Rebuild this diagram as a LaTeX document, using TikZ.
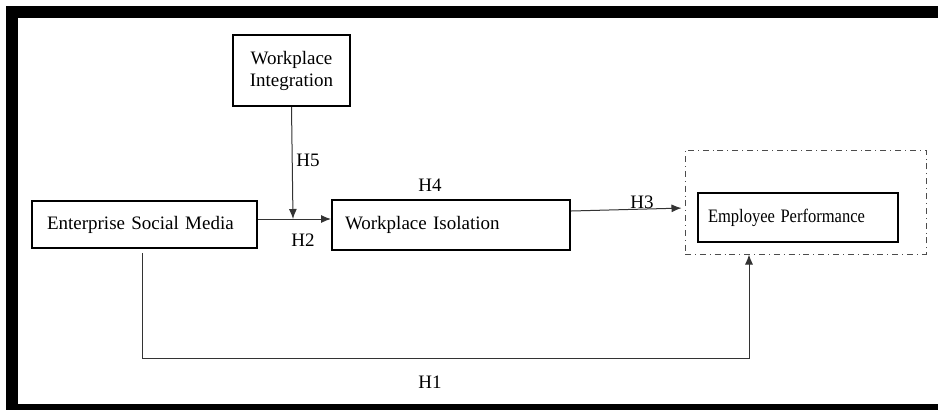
\documentclass[tikz,border=0pt]{standalone}
\usepackage{fontspec}
\setmainfont{Liberation Serif}
\usetikzlibrary{positioning,arrows.meta}
\tikzset{box/.style={draw,line width=1pt,inner ysep=0pt,align=left},
    arr/.style={-{Latex[length=5pt,width=4pt]},line width=0.5pt,draw=black!80},
    hyp/.style={inner sep=0pt}}

\begin{document}
\begin{tikzpicture}[x=0.5pt,y=-0.5pt,font=\fontsize{9.5}{11}\selectfont]
\useasboundingbox (0,0) rectangle (938,409);
\clip (0,0) rectangle (938,409);

% frame
\draw[line width=6pt] (12,12) rectangle (980,410);

\node[box,
    minimum height=23.5pt,
    text width=97.5pt,
    inner xsep=7.5pt
] (esm) at (144.5,224.5) {Enterprise Social Media};

\node[box,
    right=36.5pt of esm,
    minimum height=25pt,
    text width=106pt,
    inner xsep=6.5pt
] (wiso) {Workplace Isolation};

\node[box,
    minimum width=58.5pt,
    minimum height=35.5pt,
    align=center
] (wint) at (291.5,70.5) {Workplace\\Integration};

\node[box,
    minimum height=24.5pt,
    text width=90pt,
    inner xsep=5pt
] (ep) at (798,217.5) {\scalebox{0.87}[1]{Employee Performance}};

\node[draw,
    dash dot,
    line width=0.5pt,
    draw=black!70,
    minimum width=120.5pt,
    minimum height=52pt
] (outcome) at (805.5,202) {};

\coordinate (junc) at (293,219);
\coordinate (h1a) at (142,253);
\coordinate (h1b) at (749,358);

% Arrows
\draw[arr] (wint.south) -- (junc);
\draw[arr] (esm.east |- junc) -- (wiso.west |- junc);
\draw[arr,shorten >=1.5pt] (wiso.east |- 0,211) -- (outcome.west |- 0,208);
\draw[arr] (h1a) |- (h1b) -- (outcome.south -| h1b);

% labels
\node[hyp] (h5) at (308,160) {H5};
\node[hyp] (h4) at (430,185) {H4};
\node[hyp] (h2) at (303,240) {H2};
\node[hyp] (h3) at (642,202) {H3};
\node[hyp] (h1) at (430,382) {H1};
\end{tikzpicture}
\end{document}
